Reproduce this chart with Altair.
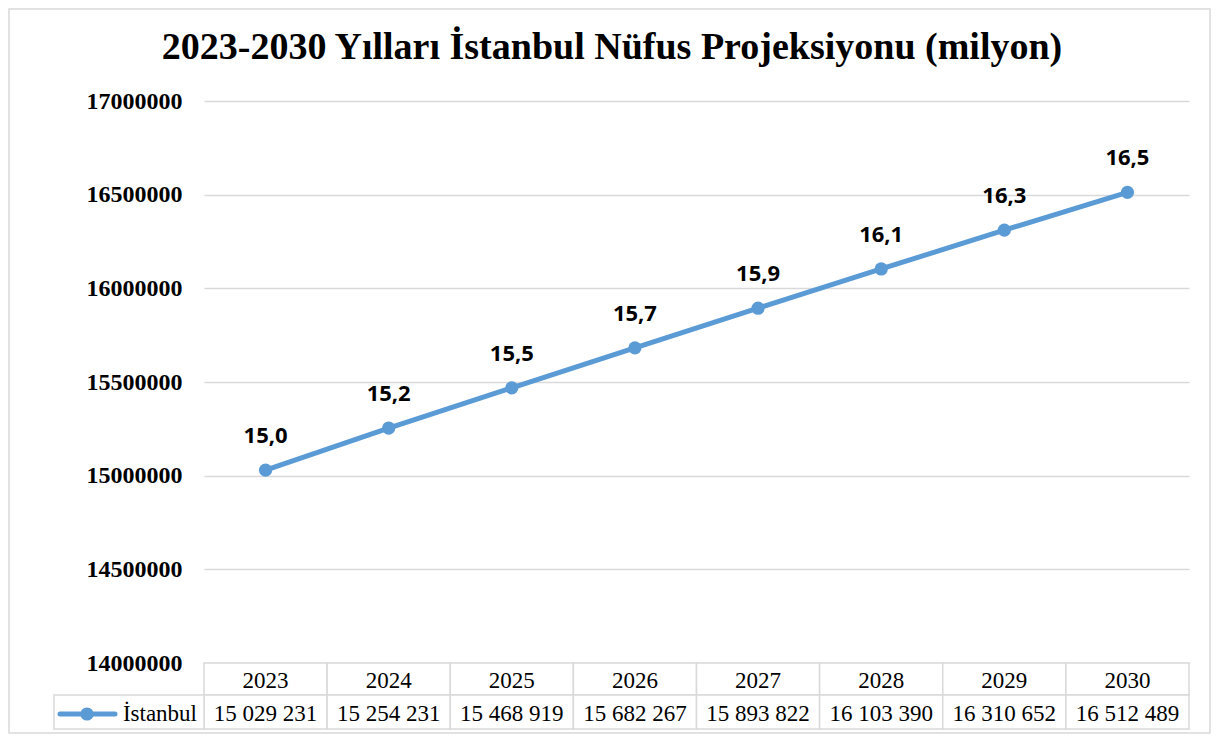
import altair as alt
import pandas as pd

TITLE = "2023-2030 Yılları İstanbul Nüfus Projeksiyonu (milyon)"
SERIES = "İstanbul"
years = ["2023", "2024", "2025", "2026", "2027", "2028", "2029", "2030"]
population = [15029231, 15254231, 15468919, 15682267, 15893822, 16103390, 16310652, 16512489]
labels = ["15,0", "15,2", "15,5", "15,7", "15,9", "16,1", "16,3", "16,5"]
y_ticks = [14000000, 14500000, 15000000, 15500000, 16000000, 16500000, 17000000]

BLUE = "#5B9BD5"
GRID = "#d9d9d9"
SERIF = "Liberation Serif"

W, H = 985, 562
PAD = {"left": 196, "top": 93, "right": 22, "bottom": 71}

df = pd.DataFrame({
    "year": years,
    "pop": population,
    "label": labels,
    "cell": [f"{v:,}".replace(",", " ") for v in population],
})

xenc = alt.X("year:O", scale=alt.Scale(type="band", paddingInner=0, paddingOuter=0), axis=None)
yenc = alt.Y("pop:Q",
             scale=alt.Scale(domain=[14000000, 17000000], nice=False, zero=False),
             axis=alt.Axis(values=y_ticks, format="d", title=None, ticks=False, domain=False,
                           labelFont=SERIF, labelFontWeight="bold", labelFontSize=24,
                           labelColor="#000", labelPadding=22, gridColor=GRID, gridWidth=1.3))

base = alt.Chart(df)

line = base.mark_line(color=BLUE, strokeWidth=5).encode(x=xenc, y=yenc)
pts = base.mark_point(filled=True, color=BLUE, size=175, opacity=1).encode(x=xenc, y=yenc)
lbl = base.mark_text(dy=-27, baseline="alphabetic", font="Open Sans", fontWeight="bold",
                     fontSize=22, color="#000").encode(x=xenc, y=yenc, text="label:N")

# data table under the plot
hdr_cells = base.mark_rect(fill="white", stroke=GRID, strokeWidth=1.5).encode(
    x=xenc, y=alt.value(562), y2=alt.value(594))
val_cells = base.mark_rect(fill="white", stroke=GRID, strokeWidth=1.5).encode(
    x=xenc, y=alt.value(594), y2=alt.value(628))
hdr_text = base.mark_text(font=SERIF, fontSize=23, color="#000", baseline="alphabetic").encode(
    x=xenc, y=alt.value(587), text="year:N")
val_text = base.mark_text(font=SERIF, fontSize=23, color="#000", baseline="alphabetic").encode(
    x=xenc, y=alt.value(620), text="cell:N")

one = alt.Chart(pd.DataFrame({"series": [SERIES], "title": [TITLE]}))
leg_cell = one.mark_rect(fill="white", stroke=GRID, strokeWidth=1.5).encode(
    x=alt.value(-150), x2=alt.value(0), y=alt.value(594), y2=alt.value(628))
leg_line = one.mark_rule(color=BLUE, strokeWidth=5, strokeCap="round").encode(
    x=alt.value(-144), x2=alt.value(-89), y=alt.value(613))
leg_pt = one.mark_point(filled=True, color=BLUE, size=175, opacity=1).encode(
    x=alt.value(-117), y=alt.value(613))
leg_text = one.mark_text(font=SERIF, fontSize=23, color="#000", align="right",
                         baseline="alphabetic").encode(
    x=alt.value(-7), y=alt.value(620), text="series:N")

title = one.mark_text(font=SERIF, fontSize=38, fontWeight="bold", color="#000",
                      align="center", baseline="alphabetic").encode(
    x=alt.value(408), y=alt.value(-42), text="title:N")

border = one.mark_rect(fill=None, stroke=GRID, strokeWidth=1.5).encode(
    x=alt.value(-PAD["left"] + 1), x2=alt.value(W + PAD["right"] - 1),
    y=alt.value(-PAD["top"] + 1), y2=alt.value(H + PAD["bottom"] - 1))

chart = alt.layer(
    border, title, line, pts, lbl, hdr_cells, val_cells, hdr_text, val_text,
    leg_cell, leg_line, leg_pt, leg_text
).properties(
    width=W, height=H,
    autosize=alt.AutoSizeParams(type="none"),
    padding=PAD,
).configure_view(stroke=None)

chart.save("out.html", embed_options={"renderer": "svg", "actions": False})
